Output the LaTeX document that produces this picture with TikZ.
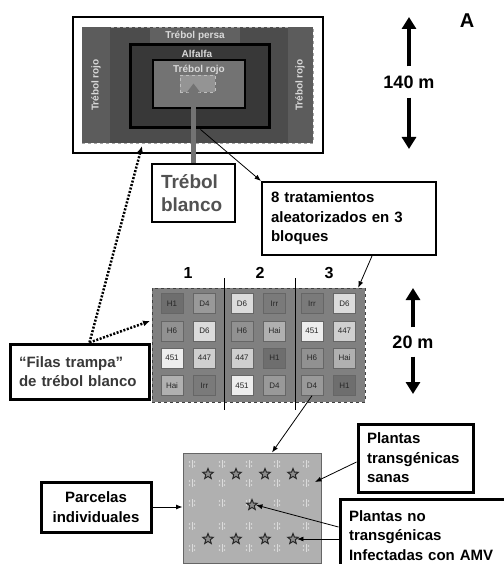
\documentclass[tikz,border=0pt]{standalone}
\usepackage{fontspec}
\setmainfont{Liberation Sans}
\usetikzlibrary{arrows.meta,positioning,shapes.geometric}

% treatment colours
\definecolor{cH1}{gray}{0.43}
\definecolor{cD4}{gray}{0.60}
\definecolor{cD6}{gray}{0.86}
\definecolor{cIrr}{gray}{0.48}
\definecolor{cH6}{gray}{0.57}
\definecolor{cHai}{gray}{0.69}
\definecolor{c451}{gray}{0.93}
\definecolor{c447}{gray}{0.81}

\begin{document}
\begin{tikzpicture}[x=1pt, y=-1pt,
    callout/.style={rectangle, draw=black, line width=3pt, fill=white, align=left, inner xsep=9pt, inner ysep=0pt,
        font=\bfseries\fontsize{15}{19.5}\selectfont},
    fieldlabel/.style={font=\bfseries\fontsize{10}{12}\selectfont, text=black!15, inner sep=1pt},
    cell/.style={rectangle, draw=black!60, line width=0.6pt, minimum width=22pt, minimum height=20pt, inner sep=0pt,
        font=\fontsize{8}{9}\selectfont, text=black!85},
    plantstar/.style={star, star points=5, star point ratio=2.3, draw=black!85, line width=1pt, fill=black!45,
        minimum size=11pt, inner sep=0pt},
    dimlabel/.style={font=\bfseries\fontsize{18}{22}\selectfont},
    blocklabel/.style={font=\bfseries\fontsize{16}{18}\selectfont},
    bigarrow/.style={line width=4pt, -{Triangle[length=12pt,width=14pt]}},
    thinarrow/.style={line width=0.8pt, -{Latex[length=6.5pt,width=5pt]}},
    traparrow/.style={line width=2.5pt, dash pattern=on 2pt off 1.6pt, -{Latex[length=7pt,width=6pt]}},
    plantmark/.pic={
        \draw[black!14, line width=0.8pt] (0,-4) -- (0,4);
        \fill[black!14] (-2.5,-2) circle (0.9pt) (-2.5,2) circle (0.9pt) (2.5,-2) circle (0.9pt) (2.5,2) circle (0.9pt);
    }]

    \useasboundingbox (0,0) rectangle (503,564);

    % Field plan
    \node[rectangle, draw=black, line width=1.2pt, fill=white, minimum width=250pt, minimum height=136pt] (frame) at (198,85) {};
    \node[rectangle, draw=black!35, dashed, fill=black!70, minimum width=231pt, minimum height=116pt] (field) at (197.5,85) {};
    \fill[black!64] (82,27) rectangle (110,143);
    \fill[black!64] (288,27) rectangle (313,143);
    \fill[black!62] (150,28) rectangle (240,44);
    \node[rectangle, draw=black, line width=3pt, fill=black!78, minimum width=139pt, minimum height=83pt] (alfalfa) at (199.5,86.5) {};
    \node[rectangle, draw=black, line width=1.5pt, fill=black!55, minimum width=92pt, minimum height=48pt] (rojoin) at (199,84) {};
    \node[rectangle, draw=black!25, dashed, fill=black!42, minimum width=35pt, minimum height=17pt] (patch) at (197.5,83.5) {};
    \node[fieldlabel] (persa) at (195,36) {Trébol persa};
    \node[fieldlabel] (alflab) at (197,54) {Alfalfa};
    \node[fieldlabel] (rojolab) at (199,70) {Trébol rojo};
    \node[fieldlabel, rotate=90] (rojoleft) at (96,85) {Trébol rojo};
    \node[fieldlabel, rotate=90] (rojoright) at (300,85) {Trébol rojo};

    % Trap rows of white clover
    \node[callout, line width=2.5pt, text width=65pt, minimum height=58pt, text=black!68,
        font=\bfseries\fontsize{19}{23}\selectfont] (blanco) at (193.5,193) {Trébol\\blanco};
    \draw[line width=5pt, black!55, -{Triangle[length=9pt,width=13pt]}] (blanco.north) -- (blanco.north |- patch.center);

    % Treatments
    \node[callout, line width=2pt, text width=156pt, minimum height=73pt] (trat) at (349,218.5)
        {8 tratamientos\\aleatorizados en 3\\bloques};
    \draw[thinarrow] ([xshift=1pt]alfalfa.south) -- (trat.north west);

    % Distances
    \node[dimlabel, inner sep=9pt] (d140) at (409,82) {140 m};
    \coordinate (d140top) at (409,17);
    \coordinate (d140bot) at (409,149);
    \draw[bigarrow] (d140.north) -- (d140top);
    \draw[bigarrow] (d140.south) -- (d140bot);
    \node[dimlabel, inner sep=8pt] (d20) at (413,342) {20 m};
    \coordinate (d20top) at (413,288);
    \coordinate (d20bot) at (413,394);
    \draw[bigarrow] (d20.north) -- (d20top);
    \draw[bigarrow] (d20.south) -- (d20bot);
    \node[font=\bfseries\fontsize{20}{24}\selectfont] (panel) at (467,21) {A};

    % Block layout
    \node[rectangle, draw=black!75, dashed, fill=black!50, minimum width=213pt, minimum height=114pt] (grid) at (258.5,345) {};
    \foreach \x in {224,295} {
        \draw[line width=1pt] (\x,278) -- (\x,410);
    }
    \foreach \x/\n in {188/1,260/2,329/3} {
        \node[blocklabel] (blk\n) at (\x,273) {\n};
    }
    \foreach \row/\labs in {1/{H1,D4,D6,Irr,Irr,D6}, 2/{H6,D6,H6,Hai,451,447},
                            3/{451,447,447,H1,H6,Hai}, 4/{Hai,Irr,451,D4,D4,H1}} {
        \foreach \lab [count=\col] in \labs {
            \pgfmathsetmacro\cx{172 + 70*floor((\col-1)/2) + 32.5*mod(\col-1,2)}
            \pgfmathsetmacro\cy{303.5 + 27.3*(\row-1)}
            \node[cell, fill=c\lab] (c-\row-\col) at (\cx,\cy) {\lab};
        }
    }
    \draw[thinarrow] ([xshift=23pt]trat.south) -- ([xshift=-7pt]grid.north east);

    % Trap rows
    \node[callout, text width=121pt, minimum height=55pt, text=black!78] (filas) at (79.5,371.5)
        {“Filas trampa”\\de trébol blanco};
    \coordinate (trapfield) at (142,146);
    \coordinate (trapgrid) at (150,321);
    \draw[traparrow] ([xshift=10pt]filas.north) -- (trapfield);
    \draw[traparrow] ([xshift=10pt]filas.north) -- (trapgrid);

    % Individual plot
    \node[rectangle, draw=black!60, line width=1pt, fill=black!31, minimum width=138pt, minimum height=110pt] (plot) at (252,508) {};
    \foreach \x in {192,222,249,277,306} {
        \foreach \y in {464,483,503,526,548} {
            \pic at (\x,\y) {plantmark};
        }
    }
    \foreach \x [count=\i] in {208,236,265,293} {
        \node[plantstar] (st\i) at (\x,474) {};
        \node[plantstar] (sb\i) at (\x,539) {};
    }
    \node[plantstar] (smid) at (252,505) {};
    \draw[thinarrow] (c-4-5.south) -- ([xshift=20pt]plot.north);

    % Plot callouts
    \node[callout, align=center, minimum width=110pt, minimum height=50pt] (parcelas) at (96,507)
        {Parcelas\\individuales};
    \draw[thinarrow] (parcelas.east) -- (parcelas.east -| plot.west);
    \node[callout, text width=97pt, minimum height=68pt] (sanas) at (415.5,458)
        {Plantas\\transgénicas\\sanas};
    \coordinate (healthy) at (315,482);
    \draw[thinarrow] ([yshift=-4pt]sanas.west) -- (healthy);
    \node[callout, text width=148pt, minimum height=73pt] (infect) at (423,535.5)
        {Plantas no\\transgénicas\\Infectadas con AMV};
    \draw[thinarrow] ([yshift=8.5pt]infect.west) -- (smid.east);
    \draw[thinarrow] ([yshift=-3.5pt]infect.west) -- (sb4.east);

\end{tikzpicture}
\end{document}
